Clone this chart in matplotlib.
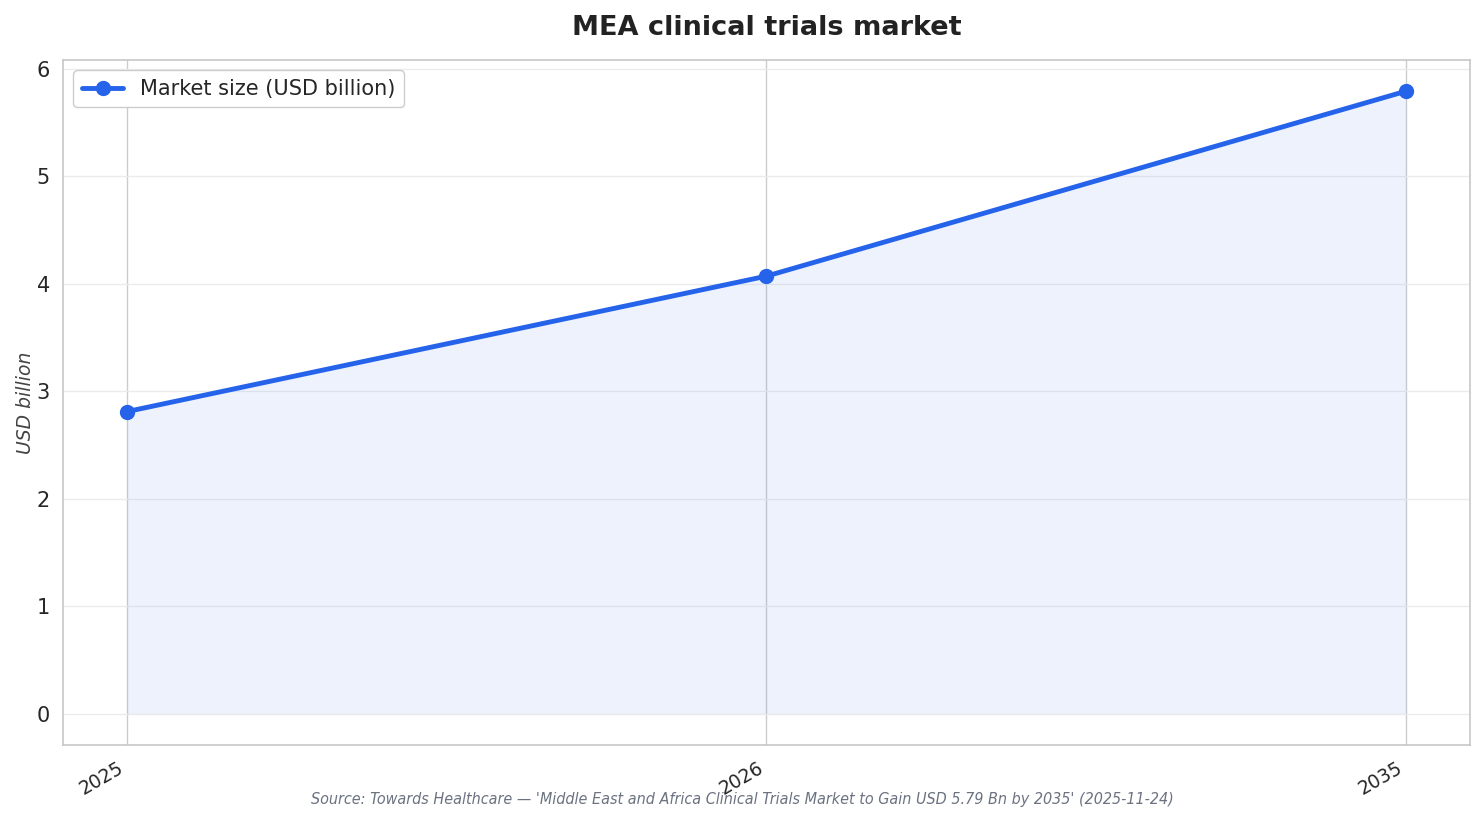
import matplotlib
matplotlib.use("Agg")
import matplotlib.pyplot as plt
import seaborn as sns

years = ["2025", "2026", "2035"]
values = [2.81, 4.07, 5.79]
series_label = "Market size (USD billion)"
title = "MEA clinical trials market"
ylabel = "USD billion"
source = "Source: Towards Healthcare \u2014 'Middle East and Africa Clinical Trials Market to Gain USD 5.79 Bn by 2035' (2025-11-24)"

sns.set_theme(style="whitegrid")
plt.rcParams['font.family'] = ['DejaVu Sans']

fig, ax = plt.subplots(figsize=(14.84, 8.23), dpi=100)
fig.subplots_adjust(left=0.0425, right=0.9905, top=0.927, bottom=0.095)

x = list(range(len(years)))
color = "#2563eb"
ax.fill_between(x, values, 0, color=color, alpha=0.08, linewidth=0)
ax.plot(x, values, color=color, linewidth=3.5, marker="o", markersize=10, label=series_label, zorder=3)

ax.set_xticks(x)
ax.set_xticklabels(years, rotation=30, ha="right", fontsize=13.5)
ax.tick_params(axis="y", labelsize=15)
ax.grid(axis="x", color="0.8", linewidth=1)
ax.grid(axis="y", color="0.92", linewidth=1)
for s in ax.spines.values():
    s.set_color("0.78")
    s.set_linewidth(1.2)

ax.set_title(title, fontsize=19.5, fontweight="bold", pad=18, color="#222222")
ax.set_ylabel(ylabel, fontsize=13.5, style="italic", color="#444444", labelpad=1)
ax.legend(loc="upper left", fontsize=15, frameon=True, framealpha=1, edgecolor="0.8")

fig.text(0.5, 0.028, source, ha="center", va="center", fontsize=11.5, style="italic",
         color="#6b7280", stretch="condensed")

fig.savefig("out.png", dpi=100)
